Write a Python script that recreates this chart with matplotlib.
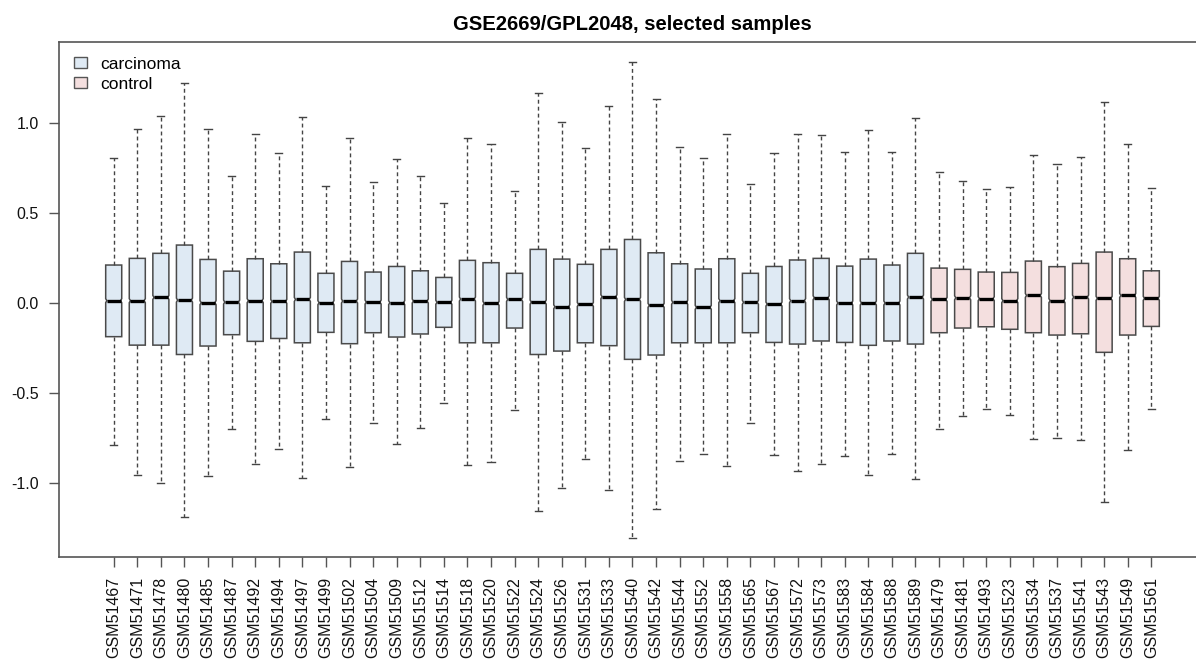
import matplotlib
matplotlib.use("Agg")
import matplotlib.pyplot as plt
from matplotlib.patches import Patch
from matplotlib.path import Path

plt.rcParams['font.family'] = ['Liberation Sans', 'DejaVu Sans']

samples = ["GSM51467", "GSM51471", "GSM51478", "GSM51480", "GSM51485", "GSM51487",
           "GSM51492", "GSM51494", "GSM51497", "GSM51499", "GSM51502", "GSM51504",
           "GSM51509", "GSM51512", "GSM51514", "GSM51518", "GSM51520", "GSM51522",
           "GSM51524", "GSM51526", "GSM51531", "GSM51533", "GSM51540", "GSM51542",
           "GSM51544", "GSM51552", "GSM51558", "GSM51565", "GSM51567", "GSM51572",
           "GSM51573", "GSM51583", "GSM51584", "GSM51588", "GSM51589",
           "GSM51479", "GSM51481", "GSM51493", "GSM51523", "GSM51534", "GSM51537",
           "GSM51541", "GSM51543", "GSM51549", "GSM51561"]
groups = ["carcinoma"] * 35 + ["control"] * 10

whisker_hi = [0.809, 0.967, 1.040, 1.226, 0.967, 0.707, 0.939, 0.837, 1.035, 0.652,
              0.918, 0.676, 0.800, 0.705, 0.559, 0.918, 0.887, 0.622, 1.170, 1.007,
              0.863, 1.098, 1.343, 1.133, 0.870, 0.807, 0.942, 0.665, 0.833, 0.942,
              0.933, 0.842, 0.961, 0.839, 1.028,
              0.731, 0.679, 0.635, 0.648, 0.826, 0.776, 0.813, 1.117, 0.885, 0.642]
q3 = [0.213, 0.250, 0.278, 0.324, 0.244, 0.179, 0.248, 0.220, 0.285, 0.167,
      0.233, 0.174, 0.205, 0.181, 0.144, 0.239, 0.226, 0.167, 0.300, 0.246,
      0.217, 0.300, 0.355, 0.281, 0.220, 0.191, 0.248, 0.167, 0.205, 0.241,
      0.250, 0.207, 0.246, 0.213, 0.278,
      0.196, 0.189, 0.174, 0.172, 0.235, 0.204, 0.222, 0.285, 0.248, 0.181]
median = [0.015, 0.015, 0.033, 0.018, 0.004, 0.007, 0.015, 0.011, 0.022, 0.004,
          0.013, 0.007, 0.004, 0.013, 0.006, 0.024, 0.000, 0.022, 0.007, -0.019,
          -0.006, 0.037, 0.022, -0.011, 0.006, -0.022, 0.015, 0.006, -0.004, 0.015,
          0.031, 0.002, 0.002, 0.002, 0.035,
          0.022, 0.031, 0.026, 0.015, 0.044, 0.015, 0.035, 0.028, 0.044, 0.028]
q1 = [-0.185, -0.232, -0.232, -0.284, -0.237, -0.174, -0.211, -0.195, -0.219, -0.161,
      -0.224, -0.163, -0.187, -0.170, -0.133, -0.219, -0.219, -0.137, -0.284, -0.265,
      -0.219, -0.235, -0.311, -0.287, -0.219, -0.219, -0.219, -0.163, -0.217, -0.226,
      -0.209, -0.217, -0.233, -0.209, -0.226,
      -0.163, -0.137, -0.130, -0.144, -0.163, -0.176, -0.169, -0.272, -0.176, -0.128]
whisker_lo = [-0.787, -0.954, -1.000, -1.185, -0.959, -0.700, -0.893, -0.811, -0.972, -0.644,
              -0.907, -0.663, -0.780, -0.695, -0.552, -0.898, -0.883, -0.593, -1.154, -1.024,
              -0.867, -1.039, -1.304, -1.141, -0.874, -0.835, -0.906, -0.663, -0.841, -0.930,
              -0.891, -0.847, -0.952, -0.837, -0.978,
              -0.696, -0.624, -0.589, -0.619, -0.756, -0.746, -0.757, -1.102, -0.813, -0.589]

group_colors = {"carcinoma": "#dfeaf4", "control": "#f4dfdf"}
title = "GSE2669/GPL2048, selected samples"

W, H = 1196, 663
fig = plt.figure(figsize=(W / 100, H / 100), dpi=100)
left_px, right_px, top_px, bottom_px = 59, 1206, 42, 557
ax = fig.add_axes([left_px / W, 1 - bottom_px / H,
                   (right_px - left_px) / W, (bottom_px - top_px) / H])

notch_h = 0.011
stats = []
for i in range(len(samples)):
    stats.append(dict(med=median[i], q1=q1[i], q3=q3[i],
                      whislo=whisker_lo[i], whishi=whisker_hi[i],
                      cilo=median[i] - notch_h, cihi=median[i] + notch_h,
                      fliers=[], label=samples[i]))

positions = list(range(1, len(samples) + 1))
box_w = 0.68
edge_col = "#4a4a4a"
res = ax.bxp(stats, positions=positions, widths=box_w, capwidths=0.3,
             patch_artist=True, shownotches=True, showfliers=False,
             boxprops=dict(edgecolor=edge_col, linewidth=1.1),
             whiskerprops=dict(color="#444444", linewidth=1.0, linestyle=(0, (2.8, 2.2))),
             capprops=dict(color="#444444", linewidth=1.0),
             medianprops=dict(color="black", linewidth=2.4, solid_capstyle="butt"))

inset = 0.05
for i, patch in enumerate(res["boxes"]):
    patch.set_facecolor(group_colors[groups[i]])
    p = patch.get_path()
    verts = p.vertices.copy()
    pos = positions[i]
    verts[3, 0] = pos + box_w / 2 - inset
    verts[8, 0] = pos - box_w / 2 + inset
    newp = Path(verts, p.codes)
    try:
        patch.set_path(newp)
    except AttributeError:
        patch._path = newp
    res["medians"][i].set_xdata([pos - box_w / 2 + inset, pos + box_w / 2 - inset])

ax.set_xlim(-1.32, 47.32)
ax.set_ylim(-1.409, 1.452)
ax.set_yticks([-1.0, -0.5, 0.0, 0.5, 1.0])
ax.set_yticklabels(["-1.0", "-0.5", "0.0", "0.5", "1.0"])
ax.set_xticks(positions)
ax.set_xticklabels(samples, rotation=90)
ax.tick_params(axis="both", length=7, width=1.0, color="#555555",
               labelsize=11.5, labelcolor="#111111", pad=7.5)
for s in ax.spines.values():
    s.set_color("#555555")
    s.set_linewidth(1.2)

ax.set_title(title, fontsize=14.6, fontweight="bold", pad=8.5)

handles = [Patch(facecolor=group_colors[g], edgecolor="#555555", linewidth=1.0)
           for g in ["carcinoma", "control"]]
ax.legend(handles, ["carcinoma", "control"], loc="upper left", frameon=False,
          fontsize=12.5, handlelength=0.75, handleheight=0.58, handletextpad=0.8,
          labelspacing=0.3, borderaxespad=0.3, borderpad=0.55)

fig.savefig("out.png", dpi=100)
